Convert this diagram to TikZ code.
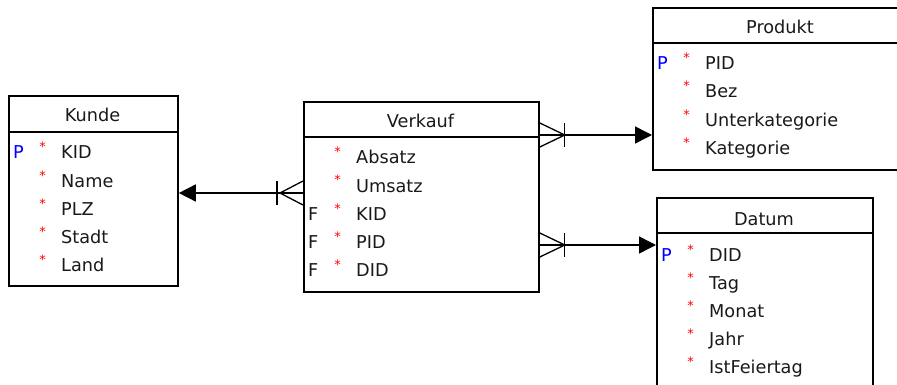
\documentclass[tikz,border=0pt]{standalone}
\usepackage{fontspec}
\setmainfont{DejaVu Sans}
\usetikzlibrary{arrows.meta}
\definecolor{txt}{RGB}{25,25,25}
\begin{document}
\begin{tikzpicture}[x=1pt,y=-1pt,
  entity/.style={draw, line width=1.8pt, rectangle, anchor=north west, inner sep=0pt},
  headline/.style={line width=1.8pt},
  ttl/.style={anchor=base, inner sep=0pt, text=txt, font=\fontsize{17.7}{20}\selectfont},
  attr/.style={anchor=base west, inner sep=0pt, text=txt, font=\fontsize{17.7}{20}\selectfont},
  keyP/.style={anchor=base west, inner sep=0pt, text=blue, font=\fontsize{17.7}{20}\selectfont},
  keyF/.style={anchor=base west, inner sep=0pt, text=txt, font=\fontsize{17.7}{20}\selectfont},
  req/.style={anchor=base, inner sep=0pt, text=red, font=\fontsize{13}{13}\selectfont},
  conn/.style={line width=1.5pt},
  crow/.style={line width=1.3pt},
  tip/.style={-{Triangle[length=17pt,width=17pt]}}
]
\useasboundingbox (0,0) rectangle (897,385);
\clip (0,0) rectangle (897,385);

% ---------- Kunde ----------
\node[entity, minimum width=169pt, minimum height=190pt] (kunde) at (8,95) {};
\draw[headline] ([yshift=-37pt]kunde.north west) -- ([yshift=-37pt]kunde.north east);
\node[ttl] (kt) at (92.5,122) {Kunde};
\node[keyP] (kp1) at (13,159) {P};
\foreach \y/\t [count=\i] in {159/KID,187/Name,215/PLZ,243/Stadt,271/Land}{
  \node[req] (ks\i) at (42.5,\y-7) {*};
  \node[attr] (ka\i) at (61,\y) {\t};
}

% ---------- Verkauf ----------
\node[entity, minimum width=235pt, minimum height=190pt] (verkauf) at (303,101) {};
\draw[headline] ([yshift=-36pt]verkauf.north west) -- ([yshift=-36pt]verkauf.north east);
\node[ttl] (vt) at (420.5,128) {Verkauf};
\foreach \y/\t [count=\i] in {164/Absatz,192/Umsatz,220/KID,248/PID,276/DID}{
  \node[req] (vs\i) at (337.5,\y-7) {*};
  \node[attr] (va\i) at (356,\y) {\t};
}
\foreach \y [count=\i] in {220,248,276}{
  \node[keyF] (vf\i) at (308,\y) {F};
}

% ---------- Produkt ----------
\node[entity, minimum width=256pt, minimum height=162pt] (produkt) at (652,7) {};
\draw[headline] ([yshift=-36pt]produkt.north west) -- ([yshift=-36pt]produkt.north east);
\node[ttl] (pt) at (780,34) {Produkt};
\node[keyP] (pp1) at (657,70) {P};
\foreach \y/\t [count=\i] in {70/PID,98/Bez,127/Unterkategorie,155/Kategorie}{
  \node[req] (ps\i) at (686.5,\y-7) {*};
  \node[attr] (pa\i) at (705,\y) {\t};
}

% ---------- Datum ----------
\node[entity, minimum width=216pt, minimum height=210pt] (datum) at (656,197) {};
\draw[headline] ([yshift=-36pt]datum.north west) -- ([yshift=-36pt]datum.north east);
\node[ttl] (dt) at (764,225) {Datum};
\node[keyP] (dp1) at (661,261) {P};
\foreach \y/\t [count=\i] in {261/DID,289/Tag,317/Monat,345/Jahr,373/IstFeiertag}{
  \node[req] (ds\i) at (690.5,\y-7) {*};
  \node[attr] (da\i) at (709,\y) {\t};
}

% ---------- Connectors ----------
\coordinate (c1) at (0,193);
\coordinate (c2) at (0,135);
\coordinate (c3) at (0,245);

% Verkauf -> Kunde
\draw[conn, tip] (verkauf.west |- c1) -- (kunde.east |- c1);
\path (verkauf.west |- c1) coordinate (vk);
\draw[crow] (vk) ++(0,-12) -- ++(-23,12) -- ++(23,12);
\draw[crow] (vk) ++(-26,-12) -- ++(0,24);

% Verkauf -> Produkt
\draw[conn, tip] (verkauf.east |- c2) -- (produkt.west |- c2);
\path (verkauf.east |- c2) coordinate (vp);
\draw[crow] (vp) ++(0,-12) -- ++(25,12) -- ++(-25,12);
\draw[crow] (vp) ++(25,-12) -- ++(0,24);

% Verkauf -> Datum
\draw[conn, tip] (verkauf.east |- c3) -- (datum.west |- c3);
\path (verkauf.east |- c3) coordinate (vd);
\draw[crow] (vd) ++(0,-12) -- ++(25,12) -- ++(-25,12);
\draw[crow] (vd) ++(25,-12) -- ++(0,24);
\end{tikzpicture}
\end{document}
